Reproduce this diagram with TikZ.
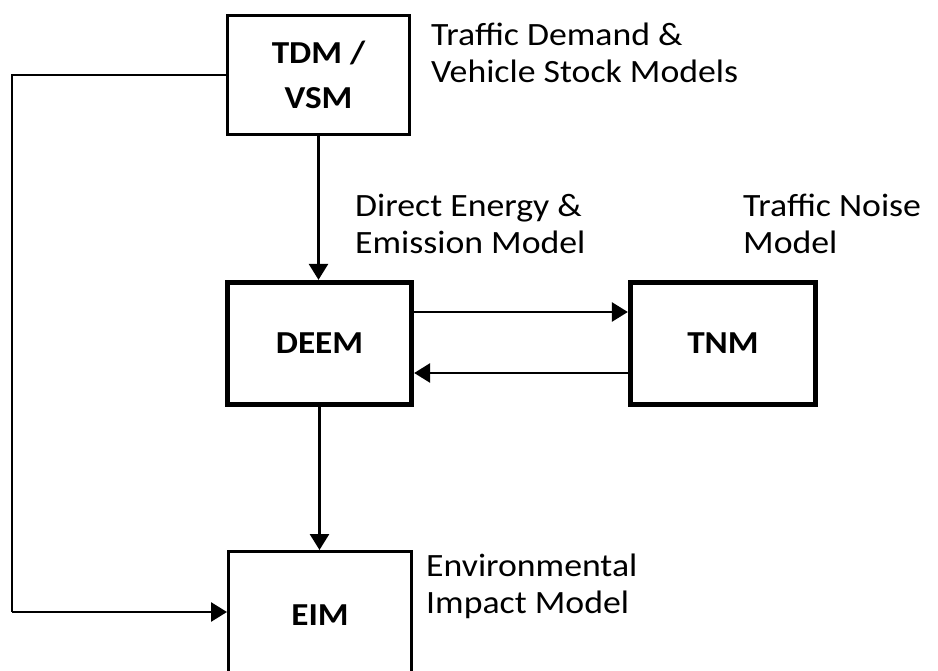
\documentclass[tikz,border=0pt]{standalone}
\usepackage{fontspec}
\setmainfont{Carlito}[FakeStretch=1.1]
\usetikzlibrary{arrows.meta}

\tikzset{
  boxthin/.style={draw, line width=3pt, align=center, inner sep=0pt,
    font=\bfseries\fontsize{32}{45}\selectfont},
  boxthick/.style={boxthin, line width=5.3pt},
  lab/.style={anchor=north west, inner sep=0pt, align=left,
    font=\fontsize{32.5}{37.5}\selectfont},
  link/.style={line width=2.8pt},
  arr/.style={link, -{Triangle[length=16pt,width=19pt]}},
}

\begin{document}
\begin{tikzpicture}[x=1pt,y=-1pt]
  \clip (0,0) rectangle (938,671);

  % model boxes
  \node[boxthin, minimum width=182pt, minimum height=119pt] (tdm) at (318.5,75) {TDM /\\VSM};
  \node[boxthick, minimum width=184pt, minimum height=122pt] (deem) at (319.5,343.5) {DEEM};
  \node[boxthick, minimum width=185pt, minimum height=122pt] (tnm) at (723,343.5) {TNM};
  \node[boxthin, minimum width=183pt, minimum height=127pt] (eim) at (320,615) {EIM};

  % descriptive labels (strut height 0.7 x 37.5pt above the first baseline)
  \node[lab] (ltdm) at (431,18.75) {\strut Traffic Demand \&\\Vehicle Stock Models};
  \node[lab] (ldeem) at (355,189.75) {\strut Direct Energy \&\\Emission Model};
  \node[lab] (ltnm) at (743,189.75) {\strut Traffic Noise\\Model};
  \node[lab] (leim) at (426,549.75) {\strut Environmental\\Impact Model};

  % connectors
  \draw[arr] (tdm.south) -- (tdm.south |- deem.north);
  \draw[arr] ([yshift=31.5pt]deem.east) -- ([yshift=31.5pt]deem.east -| tnm.west);
  \draw[arr] ([yshift=-29.5pt]tnm.west) -- ([yshift=-29.5pt]tnm.west -| deem.east);
  \draw[arr] (deem.south) -- (deem.south |- eim.north);

  \coordinate (c1) at (12,75);
  \coordinate (c2) at (12,612);
  \draw[link] (tdm.west) -- (c1) -- (c2);
  \draw[arr] (c2) -- (c2 -| eim.west);
\end{tikzpicture}
\end{document}
